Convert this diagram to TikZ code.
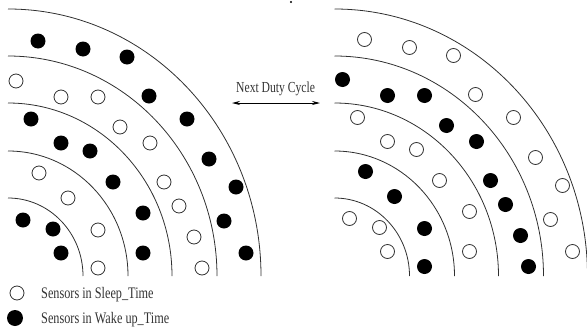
\documentclass[tikz,border=0pt]{standalone}
\usepackage{fontspec}
\setmainfont{Liberation Serif}
\newfontfamily\narrowserif[FakeStretch=0.76]{Liberation Serif}
\usepackage{tikz}
\usetikzlibrary{arrows.meta}
\definecolor{RingGray}{HTML}{303030}
\definecolor{TextGray}{HTML}{333333}

\begin{document}
\begin{tikzpicture}[x=1pt, y=-1pt]
  \useasboundingbox (0,0) rectangle (587,327);

  % left panel: rings
  \foreach \rx/\ry in {253/267,209/220,164/173,120/125,75/78} {
    \draw[RingGray, line width=0.8pt] (8,{276-\ry}) arc[start angle=90, end angle=0, x radius=\rx, y radius=-\ry];
  }
  % left panel: sensors awake
  \foreach \px/\py in {38/41,83/49,127/57,149/96,187/119,209/159,236/187,224/221,246/253,
                       31/119,61/143,90/151,113/182,143/213,143/253,23/220,53/229,61/253} {
    \fill[black] (\px,\py) circle (7.5);
  }
  % left panel: sensors asleep
  \foreach \px/\py in {16/81,61/97,98/97,120/127,150/143,39/173,68/198,164/182,179/206,
                       98/230,194/237,98/268,202/268} {
    \draw[RingGray, fill=white, line width=0.8pt] (\px,\py) circle (7);
  }

  % right panel: same field one duty cycle later
  \begin{scope}[shift={(326.5,-1.5)}]
    \foreach \rx/\ry in {253/267,209/220,164/173,120/125,75/78} {
      \draw[RingGray, line width=0.8pt] (8,{277.5-\ry}) arc[start angle=90, end angle=0, x radius=\rx, y radius=-\ry];
    }
    \foreach \px/\py in {38/41,83/49,127/57,149/96,187/119,209/159,236/187,224/221,246/253,
                         31/119,61/143,90/151,113/182,143/213,143/253,23/220,53/229,61/253} {
      \draw[RingGray, fill=white, line width=0.8pt] (\px,\py) circle (7);
    }
    \foreach \px/\py in {16/81,61/97,98/97,120/127,150/143,39/173,68/198,164/182,179/206,
                         98/230,194/237,98/268,202/268} {
      \fill[black] (\px,\py) circle (7.5);
    }
  \end{scope}

  % duty cycle arrow
  \node[TextGray, anchor=base west, inner sep=0pt, font=\narrowserif\fontsize{15.3}{17}\selectfont] (cycle) at (236,92.3) {Next Duty Cycle};
  \coordinate (prev) at (232,103);
  \coordinate (next) at (320,103);
  \draw[black, line width=0.8pt, {Stealth[length=8pt,width=4pt]}-{Stealth[length=8pt,width=4pt]}] (prev) -- (next);

  \fill[black] (291,2) circle (1.2);

  % legend
  \draw[RingGray, fill=white, line width=0.8pt] (17,293) circle (7);
  \fill[black] (15,318) circle (8);
  \node[TextGray, anchor=base west, inner sep=0pt, font=\narrowserif\fontsize{16.1}{18}\selectfont] (sleep) at (41,298.3) {Sensors in Sleep\_Time};
  \node[TextGray, anchor=base west, inner sep=0pt, font=\narrowserif\fontsize{16.1}{18}\selectfont] (wake) at (41,323.3) {Sensors in Wake up\_Time};
\end{tikzpicture}
\end{document}
